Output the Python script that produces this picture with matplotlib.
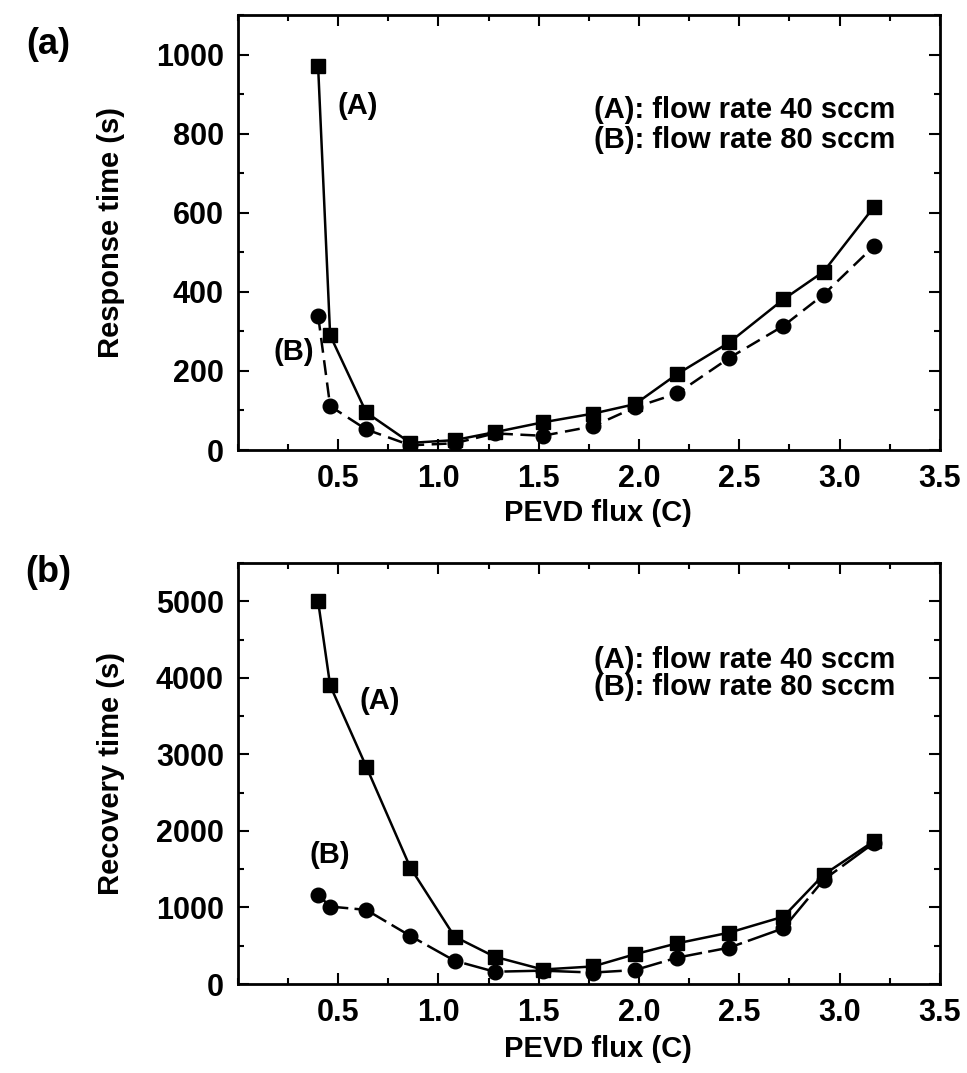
import matplotlib
matplotlib.use("Agg")
import matplotlib.pyplot as plt
from matplotlib.ticker import MultipleLocator, FixedLocator

plt.rcParams['font.family'] = ['Liberation Sans', 'DejaVu Sans']
plt.rcParams['font.weight'] = 'bold'
plt.rcParams['axes.labelweight'] = 'bold'

# PEVD flux values shared by both series
flux = [0.40, 0.46, 0.64, 0.86, 1.08, 1.28, 1.52, 1.77, 1.98, 2.19, 2.45, 2.72, 2.92, 3.17]

# (a) response time (s)
resp_a = [970, 290, 95, 18, 25, 45, 70, 92, 116, 192, 272, 381, 451, 614]
resp_b = [340, 111, 52, 12, 17, 42, 36, 60, 108, 143, 233, 314, 393, 515]

# (b) recovery time (s)
reco_a = [5000, 3900, 2840, 1520, 620, 357, 190, 230, 390, 532, 672, 881, 1427, 1865]
reco_b = [1165, 1012, 969, 628, 305, 161, 175, 150, 183, 345, 476, 729, 1361, 1841]

xticks = [0.5, 1.0, 1.5, 2.0, 2.5, 3.0, 3.5]
xticklabels = ["0.5", "1.0", "1.5", "2.0", "2.5", "3.0", "3.5"]
legend_lines = ["(A): flow rate 40 sccm", "(B): flow rate 80 sccm"]

FS = 21
TFS = 22

fig = plt.figure(figsize=(9.67, 10.73), dpi=100)
ax1 = fig.add_axes([0.246, 0.5806, 0.726, 0.4054])
ax2 = fig.add_axes([0.246, 0.0829, 0.726, 0.3924])


def style_axes(ax, ymax, ymajor, yminor, ylabel, xlabel_y):
    ax.set_xlim(0, 3.5)
    ax.set_ylim(0, ymax)
    ax.xaxis.set_major_locator(FixedLocator(xticks))
    ax.set_xticklabels(xticklabels)
    ax.xaxis.set_minor_locator(MultipleLocator(0.25))
    ax.yaxis.set_major_locator(MultipleLocator(ymajor))
    ax.yaxis.set_minor_locator(MultipleLocator(yminor))
    ax.tick_params(which='both', direction='in', top=True, right=True,
                   width=1.5, labelsize=TFS)
    ax.tick_params(which='major', length=8, pad=10)
    ax.tick_params(which='minor', length=4)
    for s in ax.spines.values():
        s.set_linewidth(2)
    ax.set_xlabel("PEVD flux (C)", fontsize=FS)
    ax.xaxis.set_label_coords(0.513, xlabel_y)
    ax.set_ylabel(ylabel, fontsize=FS, labelpad=22)


# (a)
ax1.plot(flux, resp_a, color='black', lw=1.8, marker='s', ms=9.5, zorder=3)
ax1.plot(flux, resp_b, color='black', lw=1.8, ls=(0, (6, 3)), marker='o',
         ms=10.5, zorder=3)
style_axes(ax1, 1100, 200, 100, "Response time (s)", -0.112)
ax1.text(0.60, 870, "(A)", fontsize=FS, ha='center', va='center')
ax1.text(0.28, 247, "(B)", fontsize=FS, ha='center', va='center')
ax1.text(0.936, 0.782, legend_lines[0], transform=ax1.transAxes,
         fontsize=FS, ha='right', va='center')
ax1.text(0.936, 0.713, legend_lines[1], transform=ax1.transAxes,
         fontsize=FS, ha='right', va='center')

# (b)
ax2.plot(flux, reco_a, color='black', lw=1.8, marker='s', ms=9.5, zorder=3)
ax2.plot(flux, reco_b, color='black', lw=1.8, ls=(0, (14, 2.5)), marker='o',
         ms=10.5, zorder=3)
style_axes(ax2, 5500, 1000, 500, "Recovery time (s)", -0.122)
ax2.text(0.705, 3695, "(A)", fontsize=FS, ha='center', va='center')
ax2.text(0.46, 1690, "(B)", fontsize=FS, ha='center', va='center')
ax2.text(0.936, 0.770, legend_lines[0], transform=ax2.transAxes,
         fontsize=FS, ha='right', va='center')
ax2.text(0.936, 0.705, legend_lines[1], transform=ax2.transAxes,
         fontsize=FS, ha='right', va='center')

# panel letters
fig.text(48 / 967, 1 - 45 / 1073, "(a)", fontsize=26, ha='center', va='center')
fig.text(48 / 967, 1 - 573 / 1073, "(b)", fontsize=26, ha='center', va='center')

fig.savefig("out.png", dpi=100, facecolor='white')
